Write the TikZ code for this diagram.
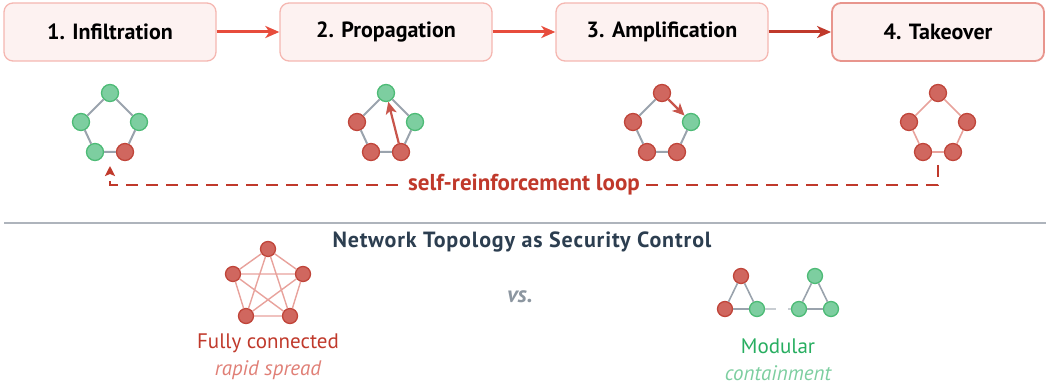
\documentclass[tikz,border=0pt]{standalone}
\usepackage{fontspec}
\setmainfont{PT Sans}
\usetikzlibrary{arrows.meta}
\definecolor{boxfill}{HTML}{FDF2F1}
\definecolor{boxline}{HTML}{F5B7B1}
\definecolor{boxlinedark}{HTML}{E8958D}
\definecolor{flowred}{HTML}{E74C3C}
\definecolor{deepred}{HTML}{C0392B}
\definecolor{rfill}{HTML}{D0675F}
\definecolor{rborder}{HTML}{C0453A}
\definecolor{gfill}{HTML}{7DCEA0}
\definecolor{gborder}{HTML}{4DBB76}
\definecolor{edgegray}{HTML}{9AA3AD}
\definecolor{edgered}{HTML}{E8A29C}
\definecolor{spreadred}{HTML}{C8554B}
\definecolor{sepgray}{HTML}{AEB4BC}
\definecolor{titleblue}{HTML}{2C3E50}
\definecolor{vsgray}{HTML}{8C96A0}
\definecolor{lightred}{HTML}{E07F76}
\definecolor{modgreen}{HTML}{27AE60}
\definecolor{lightgreen}{HTML}{7DCEA0}
\definecolor{bridgegray}{HTML}{C8CDD2}
\tikzset{
  stage/.style={draw=boxline, fill=boxfill, line width=1.3pt, rounded corners=9pt,
    minimum width=212pt, minimum height=58pt, inner sep=0pt, font=\fontsize{22}{26}\selectfont\bfseries},
  flow/.style={draw=flowred, line width=3pt, -{Stealth[length=14pt,width=12pt,inset=4pt]}},
  gn/.style={circle, draw=gborder, fill=gfill, line width=1.3pt, minimum size=17pt, inner sep=0pt},
  rn/.style={circle, draw=rborder, fill=rfill, line width=1.3pt, minimum size=17pt, inner sep=0pt},
  sgn/.style={gn, minimum size=15pt},
  srn/.style={rn, minimum size=15pt},
  gedge/.style={draw=edgegray, line width=2pt},
  redge/.style={draw=edgered, line width=1.6pt},
  spread/.style={draw=spreadred, line width=2.2pt, -{Stealth[length=12pt,width=11pt,inset=3pt]}},
  loopline/.style={draw=deepred, line width=2.6pt, dash pattern=on 12pt off 8pt, -{Stealth[length=10pt,width=10pt,inset=2pt]}},
}
\begin{document}
\begin{tikzpicture}[x=1pt, y=-1pt]
\useasboundingbox (0,0) rectangle (1050,385);

% stages
\node[stage] (s1) at (110,32) {1. Infiltration};
\node[stage] (s2) at (386,32) {2. Propagation};
\node[stage] (s3) at (662,32) {3. Amplification};
\node[stage, draw=boxlinedark, line width=1.8pt] (s4) at (938,32) {4. Takeover};
\draw[flow] (s1) -- (s2);
\draw[flow] (s2) -- (s3);
\draw[flow, draw=deepred] (s3) -- (s4);

% graph 1
\begin{scope}[shift={(110,122)}]
\node[gn] (at) at (0,-29) {};
\node[gn] (al) at (-29,0) {};
\node[gn] (ar) at (29,0) {};
\node[gn] (abl) at (-15,30) {};
\node[rn] (abr) at (15,30) {};
\end{scope}
\draw[gedge] (at)--(al) (at)--(ar) (al)--(abl) (ar)--(abr) (abl)--(abr);

% graph 2
\begin{scope}[shift={(386,122)}]
\node[gn] (bt) at (0,-29) {};
\node[rn] (bl) at (-29,0) {};
\node[gn] (br) at (29,0) {};
\node[rn] (bbl) at (-15,30) {};
\node[rn] (bbr) at (15,30) {};
\end{scope}
\draw[gedge] (bt)--(bl) (bt)--(br) (bl)--(bbl) (br)--(bbr) (bbl)--(bbr);
\draw[spread] (bbr) -- (bt);

% graph 3
\begin{scope}[shift={(662,122)}]
\node[rn] (ct) at (0,-29) {};
\node[rn] (cl) at (-29,0) {};
\node[gn] (cr) at (29,0) {};
\node[rn] (cbl) at (-15,30) {};
\node[rn] (cbr) at (15,30) {};
\end{scope}
\draw[gedge] (ct)--(cl) (cl)--(cbl) (cr)--(cbr) (cbl)--(cbr);
\draw[spread] (ct) -- (cr);

% graph 4
\begin{scope}[shift={(938,122)}]
\node[rn] (dt) at (0,-29) {};
\node[rn] (dl) at (-29,0) {};
\node[rn] (dr) at (29,0) {};
\node[rn] (dbl) at (-15,30) {};
\node[rn] (dbr) at (15,30) {};
\end{scope}
\draw[redge] (dt)--(dl) (dt)--(dr) (dl)--(dbl) (dr)--(dbr) (dbl)--(dbr);

% loop
\coordinate (loopA) at (938,165);
\coordinate (loopB) at (110,166);
\draw[loopline] (loopA) -- ++(0,20) -| (loopB);
\node[fill=white, text=deepred, inner xsep=5pt, inner ysep=2pt, font=\fontsize{23}{27}\selectfont\bfseries] (looplabel) at (524,185) {self-reinforcement loop};

% separator
\coordinate (sepL) at (4,223);
\coordinate (sepR) at (1046,223);
\draw[sepgray, line width=2.4pt] (sepL) -- (sepR);

\node[text=titleblue, font=\fontsize{22}{26}\selectfont\bfseries\addfontfeature{LetterSpace=4}] (title) at (522,242) {Network Topology as Security Control};

% fully connected
\begin{scope}[shift={(268,283)}]
\node[srn] (ft) at (0,-34) {};
\node[srn] (fl) at (-35,-9) {};
\node[srn] (fr) at (35,-9) {};
\node[srn] (fbl) at (-22,33) {};
\node[srn] (fbr) at (22,33) {};
\end{scope}
\draw[redge, line width=1.4pt] (ft)--(fl) (ft)--(fr) (ft)--(fbl) (ft)--(fbr) (fl)--(fr) (fl)--(fbl) (fl)--(fbr) (fr)--(fbl) (fr)--(fbr) (fbl)--(fbr);
\node[text=deepred, font=\fontsize{21}{25}\selectfont] (fulltext) at (268,343) {Fully connected};
\node[text=lightred, font=\fontsize{21}{25}\selectfont\itshape] (fullsub) at (268,370) {rapid spread};

\node[text=vsgray, font=\fontsize{23}{27}\selectfont\bfseries\itshape] (vs) at (520,297) {vs.};

% modular
\node[srn] (m1t) at (741,276) {};
\node[srn] (m1l) at (725,309) {};
\node[sgn] (m1r) at (757,309) {};
\node[sgn] (m2t) at (815,276) {};
\node[sgn] (m2l) at (799,309) {};
\node[sgn] (m2r) at (831,309) {};
\draw[gedge, line width=1.6pt] (m1t)--(m1l) (m1t)--(m1r) (m1l)--(m1r) (m2t)--(m2l) (m2t)--(m2r) (m2l)--(m2r);
\draw[bridgegray, line width=1.4pt, dash pattern=on 11pt off 12pt] (m1r) -- (m2l);
\node[text=modgreen, font=\fontsize{21}{25}\selectfont] (modtext) at (778,346) {Modular};
\node[text=lightgreen, font=\fontsize{21}{25}\selectfont\itshape] (modsub) at (778,373) {containment};
\end{tikzpicture}
\end{document}
